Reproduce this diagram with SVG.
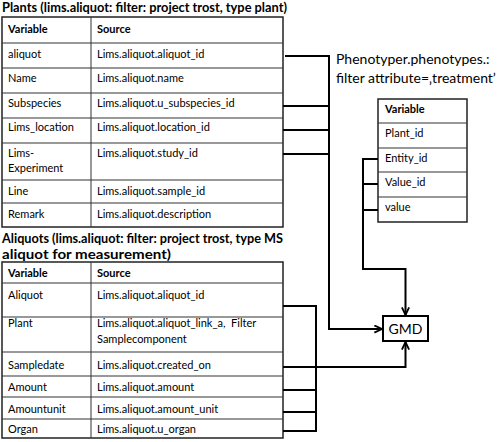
<svg xmlns="http://www.w3.org/2000/svg" width="500" height="442" viewBox="0 0 500 442">
<style>
  text { font-family: Lato, "Liberation Sans", sans-serif; fill: #000; }
  .t { font-size: 11px; }
  .b { font-weight: bold; }
  .title { font-size: 13px; font-weight: bold; }
  .big { font-size: 14px; }
  .frame { fill: #fff; stroke: #222; stroke-width: 1.5; }
  .grid { stroke: #333; stroke-width: 1; fill: none; }
  .conn { stroke: #000; stroke-width: 2; fill: none; }
</style>
<defs>
  <marker id="arrow" viewBox="0 0 10 10" refX="9.5" refY="5" markerWidth="9" markerHeight="9" orient="auto" markerUnits="userSpaceOnUse">
    <path d="M1,1 L9.5,5 L1,9" fill="none" stroke="#000" stroke-width="2"/>
  </marker>
</defs>

<g id="plants">
  <text class="title" x="2" y="12" textLength="285" lengthAdjust="spacingAndGlyphs">Plants (lims.aliquot: filter: project trost, type plant)</text>
  <rect class="frame" x="2" y="17" width="281" height="210"/>
  <path class="grid" d="M91,17V227 M2,43H283 M2,68H283 M2,93H283 M2,118H283 M2,143H283 M2,180H283 M2,203H283"/>
  <text class="t b" x="8" y="33">Variable</text><text class="t b" x="97" y="33">Source</text>
  <text class="t" x="8" y="58">aliquot</text><text class="t" x="97" y="58">Lims.aliquot.aliquot_id</text>
  <text class="t" x="8" y="82">Name</text><text class="t" x="97" y="82">Lims.aliquot.name</text>
  <text class="t" x="8" y="107">Subspecies</text><text class="t" x="97" y="107">Lims.aliquot.u_subspecies_id</text>
  <text class="t" x="8" y="131">Lims_location</text><text class="t" x="97" y="131">Lims.aliquot.location_id</text>
  <text class="t" x="8" y="157">Lims-</text><text class="t" x="8" y="172">Experiment</text><text class="t" x="97" y="157">Lims.aliquot.study_id</text>
  <text class="t" x="8" y="195">Line</text><text class="t" x="97" y="195">Lims.aliquot.sample_id</text>
  <text class="t" x="8" y="218">Remark</text><text class="t" x="97" y="218">Lims.aliquot.description</text>
</g>

<g id="aliquots">
  <text class="title" x="2" y="243" textLength="281" lengthAdjust="spacingAndGlyphs">Aliquots (lims.aliquot: filter: project trost, type MS</text>
  <text class="title" x="2" y="259" textLength="169" lengthAdjust="spacingAndGlyphs">aliquot for measurement)</text>
  <rect class="frame" x="2" y="262" width="281" height="176"/>
  <path class="grid" d="M91,262V438 M2,283H283 M2,317H283 M2,352H283 M2,376H283 M2,397H283 M2,419H283"/>
  <text class="t b" x="8" y="277">Variable</text><text class="t b" x="97" y="277">Source</text>
  <text class="t" x="8" y="299">Aliquot</text><text class="t" x="97" y="299">Lims.aliquot.aliquot_id</text>
  <text class="t" x="8" y="327">Plant</text><text class="t" x="97" y="327">Lims.aliquot.aliquot_link_a,&#160; Filter</text><text class="t" x="97" y="343">Samplecomponent</text>
  <text class="t" x="8" y="369">Sampledate</text><text class="t" x="97" y="369">Lims.aliquot.created_on</text>
  <text class="t" x="8" y="391">Amount</text><text class="t" x="97" y="391">Lims.aliquot.amount</text>
  <text class="t" x="8" y="413">Amountunit</text><text class="t" x="97" y="413">Lims.aliquot.amount_unit</text>
  <text class="t" x="8" y="433">Organ</text><text class="t" x="97" y="433">Lims.aliquot.u_organ</text>
</g>

<g id="phenotypes">
  <text class="big" x="336" y="64">Phenotyper.phenotypes.:</text>
  <text class="big" x="336" y="83">filter attribute=‚treatment’</text>
  <rect class="frame" x="378" y="99" width="89" height="123"/>
  <path class="grid" d="M378,123H467 M378,148H467 M378,172H467 M378,197H467"/>
  <text class="t b" x="385" y="113">Variable</text>
  <text class="t" x="385" y="137">Plant_id</text>
  <text class="t" x="385" y="162">Entity_id</text>
  <text class="t" x="385" y="186">Value_id</text>
  <text class="t" x="385" y="211">value</text>
</g>

<g id="gmd">
  <rect x="383" y="316" width="45" height="25" fill="#fff" stroke="#000" stroke-width="2"/>
  <text class="big" x="405.5" y="334" text-anchor="middle">GMD</text>
</g>

<g id="connectors">
  <path class="conn" d="M285,56H329V329H382" marker-end="url(#arrow)"/>
  <path class="conn" d="M283,106H329 M283,130H329 M283,154H329"/>
  <path class="conn" d="M378,159H363V269H405.5V315" marker-end="url(#arrow)"/>
  <path class="conn" d="M378,184H363 M378,210H363"/>
  <path class="conn" d="M283,306H316V431H283 M283,390H316 M283,412H316"/>
  <path class="conn" d="M283,367H405.5V342" marker-end="url(#arrow)"/>
</g>
</svg>
